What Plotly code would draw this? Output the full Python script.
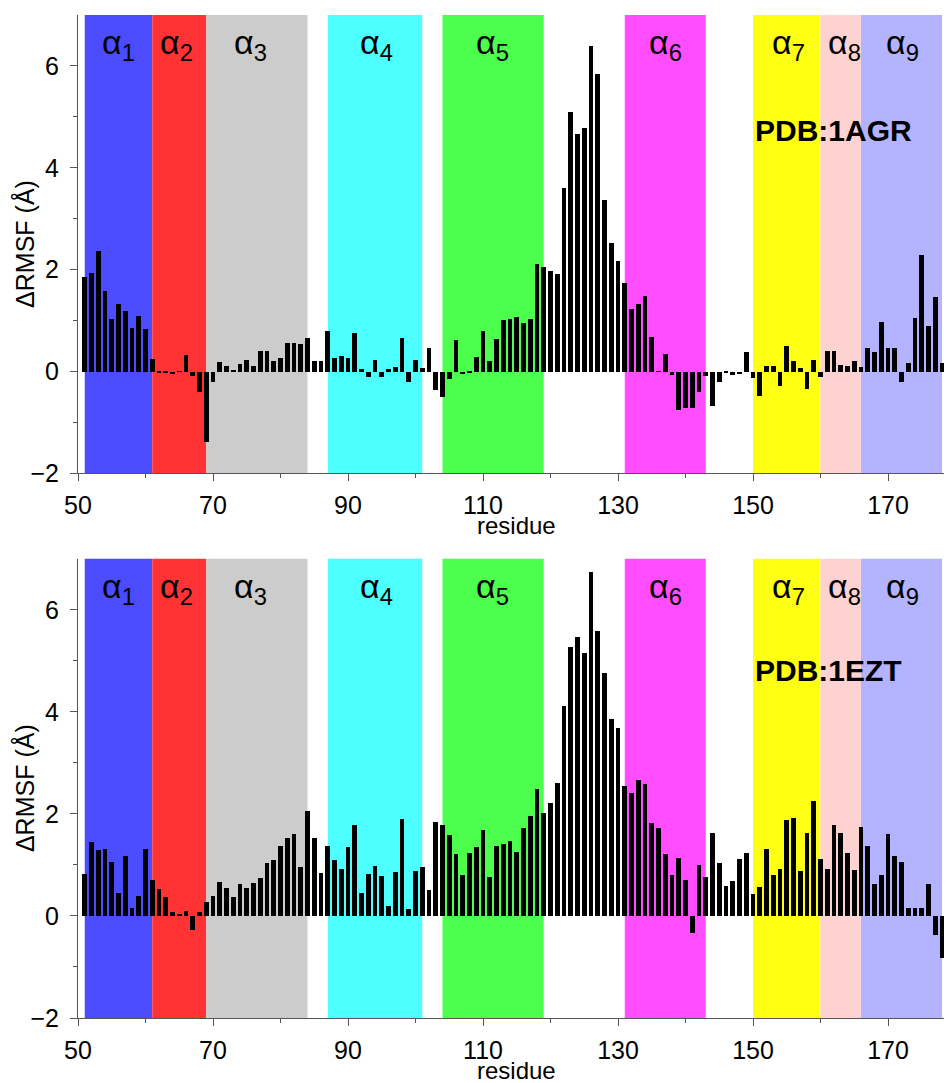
import plotly.graph_objects as go

residues = list(range(51, 179))

rmsf_1agr = [
    1.86, 1.93, 2.36, 1.58, 1.03, 1.32, 1.18, 0.86, 1.10, 0.83,   # 51-60
    0.24, -0.02, -0.02, -0.04, 0.01, 0.33, -0.08, -0.41, -1.39, -0.20,  # 61-70
    0.18, 0.10, 0.02, 0.14, 0.23, 0.10, 0.40, 0.40, 0.21, 0.27,   # 71-80
    0.57, 0.57, 0.54, 0.66, 0.20, 0.20, 0.80, 0.26, 0.31, 0.26,   # 81-90
    0.75, 0.06, -0.10, 0.23, -0.10, 0.05, 0.08, 0.65, -0.21, 0.23,  # 91-100
    0.07, 0.47, -0.36, -0.49, -0.15, 0.62, -0.05, -0.02, 0.28, 0.80,  # 101-110
    0.21, 0.64, 1.02, 1.04, 1.08, 0.96, 1.03, 2.12, 2.05, 1.97,   # 111-120
    1.92, 3.60, 5.09, 4.66, 4.79, 6.40, 5.84, 3.36, 2.52, 2.17,   # 121-130
    1.73, 1.22, 1.32, 1.48, 0.68, 0.01, 0.35, -0.07, -0.76, -0.72,  # 131-140
    -0.72, -0.41, -0.08, -0.67, -0.20, -0.01, -0.06, -0.05, 0.38, -0.12,  # 141-150
    -0.47, 0.10, 0.10, -0.28, 0.50, 0.20, 0.07, -0.34, 0.23, -0.11,  # 151-160
    0.40, 0.41, 0.13, 0.11, 0.20, 0.08, 0.47, 0.39, 0.98, 0.47,   # 161-170
    0.47, -0.21, 0.16, 1.06, 2.29, 0.89, 1.47, 0.16,              # 171-178
]

rmsf_1ezt = [
    0.83, 1.46, 1.29, 1.32, 1.06, 0.46, 1.18, 0.17, 0.39, 1.31,   # 51-60
    0.71, 0.54, 0.37, 0.09, 0.05, 0.10, -0.28, 0.09, 0.27, 0.39,  # 61-70
    0.67, 0.56, 0.37, 0.64, 0.56, 0.66, 0.75, 1.05, 1.11, 1.38,   # 71-80
    1.54, 1.61, 0.96, 2.06, 1.53, 0.85, 1.38, 1.11, 0.93, 1.35,   # 81-90
    1.78, 0.45, 0.83, 0.98, 0.79, 0.19, 0.87, 1.91, 0.14, 0.89,   # 91-100
    0.96, 0.51, 1.85, 1.78, 1.59, 1.22, 0.81, 1.24, 1.35, 1.69,   # 101-110
    0.76, 1.38, 1.42, 1.48, 1.25, 1.73, 1.97, 2.49, 2.03, 2.22,   # 111-120
    2.62, 4.12, 5.27, 5.47, 5.15, 6.75, 5.59, 4.76, 3.86, 3.69,   # 121-130
    2.56, 2.41, 2.66, 2.59, 1.83, 1.73, 1.22, 0.81, 1.15, 0.70,   # 131-140
    -0.33, 1.00, 0.77, 1.64, 1.04, 0.60, 0.68, 1.13, 1.24, 0.44,  # 141-150
    0.58, 1.31, 0.81, 0.93, 1.89, 1.93, 0.88, 1.63, 2.26, 1.13,   # 151-160
    0.92, 1.78, 1.64, 1.23, 0.90, 1.74, 1.37, 0.64, 0.81, 1.61,   # 161-170
    1.17, 1.07, 0.16, 0.16, 0.16, 0.63, -0.37, -0.81,             # 171-178
]

helix_names = ["1", "2", "3", "4", "5", "6", "7", "8", "9"]
helix_start = [51, 61, 69, 87, 104, 131, 150, 160, 166]
helix_end = [61, 69, 84, 101, 119, 143, 160, 166, 178]
helix_label_x = [56, 64.6, 75.6, 94.2, 111.4, 137, 155.2, 163.6, 172.2]
helix_colors = ["#4B4BFF", "#FF3333", "#CCCCCC", "#4DFFFF", "#4DFF4D",
                "#FF4DFF", "#FFFF14", "#FFD2D2", "#B3B3FF"]

pdb_labels = ["PDB:1AGR", "PDB:1EZT"]
pdb_label_y = [4.74, 4.81]

x_tick_vals = [50, 70, 90, 110, 130, 150, 170]
x_minor_vals = [60, 80, 100, 120, 140, 160]
y_tick_vals = [-2, 0, 2, 4, 6]
y_minor_vals = [-1, 1, 3, 5]

FONT = "Liberation Sans, Arial, Helvetica, sans-serif"
W, H = 947, 1083
ML = 78.3
MT = 15
bottom_px = 1017.7
MB = H - bottom_px
plot_right = 944.3
MR = W - plot_right
plot_h = H - MT - MB
top_domain = [(bottom_px - 473.3) / plot_h, 1.0]
bot_domain = [0.0, (bottom_px - 558.6) / plot_h]
px_per_res = 6.75

fig = go.Figure()
series = [rmsf_1agr, rmsf_1ezt]
for i, vals in enumerate(series):
    sfx = "" if i == 0 else "2"
    fig.add_trace(go.Bar(
        x=residues, y=vals, width=0.7,
        marker=dict(color="black", line=dict(width=0)),
        xaxis="x" + sfx, yaxis="y" + sfx, showlegend=False,
    ))
    for s, e, c in zip(helix_start, helix_end, helix_colors):
        fig.add_shape(type="rect", xref="x" + sfx, yref="y" + sfx + " domain",
                      x0=s, x1=e, y0=0, y1=1, fillcolor=c,
                      line=dict(width=0), layer="below")
    for n, lx in zip(helix_names, helix_label_x):
        fig.add_annotation(x=lx, y=6.42, xref="x" + sfx, yref="y" + sfx,
                           text="α<sub>" + n + "</sub>", showarrow=False,
                           font=dict(family=FONT, size=34, color="black"),
                           xanchor="center", yanchor="middle")
    fig.add_annotation(x=150, y=pdb_label_y[i], xref="x" + sfx, yref="y" + sfx,
                       text="<b>" + pdb_labels[i] + "</b>", showarrow=False,
                       font=dict(family=FONT, size=30, color="black"),
                       xanchor="left", yanchor="middle")

axis_common = dict(showline=True, linecolor="#555555", linewidth=1,
                   ticks="outside", ticklen=7, tickcolor="#555555",
                   showgrid=False, zeroline=False, automargin=False,
                   tickfont=dict(family=FONT, size=25, color="black"))
xax = dict(axis_common, range=[50, 50 + (plot_right - ML) / px_per_res],
           tickvals=x_tick_vals, ticklabelstandoff=3,
           minor=dict(tickvals=x_minor_vals, ticks="outside",
                      ticklen=4, tickcolor="#555555"))
yax = dict(axis_common, range=[-2, 7], tickvals=y_tick_vals,
           ticklabelstandoff=6,
           minor=dict(tickvals=y_minor_vals, ticks="outside", ticklen=4,
                      tickcolor="#555555"))

fig.update_layout(
    width=W, height=H,
    margin=dict(l=ML, r=MR, t=MT, b=MB, pad=0, autoexpand=False),
    paper_bgcolor="white", plot_bgcolor="white",
    bargap=0,
    xaxis=dict(xax, domain=[0, 1], anchor="y"),
    yaxis=dict(yax, domain=top_domain, anchor="x"),
    xaxis2=dict(xax, domain=[0, 1], anchor="y2"),
    yaxis2=dict(yax, domain=bot_domain, anchor="x2"),
)

ylab_x = (25 - ML) / (W - ML - MR)
for yd in [top_domain, bot_domain]:
    fig.add_annotation(x=ylab_x, y=(yd[0] + yd[1]) / 2, xref="paper", yref="paper",
                       text="ΔRMSF (Å)", textangle=-90, showarrow=False,
                       font=dict(family=FONT, size=25, color="black"),
                       xanchor="center", yanchor="middle")
    fig.add_annotation(x=115, y=yd[0], xref="x", yref="paper",
                       text="residue", showarrow=False, yshift=-52,
                       font=dict(family=FONT, size=24, color="black"),
                       xanchor="center", yanchor="middle")

# remove the default 8px page margin so the figure fills the window exactly
fig.write_html("out.html",
               config={"displayModeBar": False},
               post_script="document.body.style.margin='0';"
                           "document.body.style.overflow='hidden';")
